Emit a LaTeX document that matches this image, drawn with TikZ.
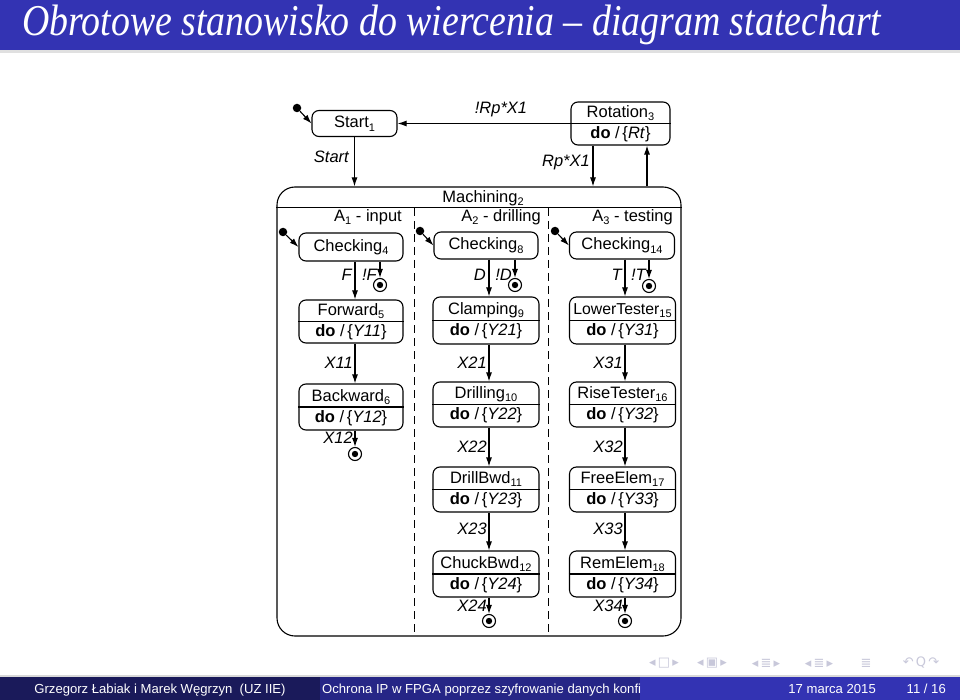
\documentclass[tikz,border=0pt]{standalone}
\usepackage{fontspec}
\setmainfont{Liberation Sans}
\newfontfamily\titlefont{Liberation Serif}
\newfontfamily\symfont{DejaVu Sans}
\usetikzlibrary{arrows.meta,calc}
\definecolor{titleblue}{RGB}{51,51,179}
\definecolor{footA}{RGB}{26,26,90}
\definecolor{footB}{RGB}{38,38,134}
\definecolor{footC}{RGB}{51,51,179}
\definecolor{navgray}{RGB}{200,200,218}
\newcommand\sub[1]{\raisebox{-0.35ex}{\fontsize{11}{12}\selectfont #1}}
\newcommand\doact[1]{\textbf{do}~/\,\{\textit{#1}\}}
% name, x, y, width, height, title, action
\newcommand\twost[7]{%
  \node[sbox, minimum width=#4pt, minimum height=#5pt] (#1) at (#2,#3) {};
  \draw[stline] (#1.west) -- (#1.east);
  \node[tnode] (#1-t) at ([yshift=10.5pt]#1.center) {#6};
  \node[tnode] (#1-a) at ([yshift=-10.5pt]#1.center) {\doact{#7}};
}
\begin{document}
\begin{tikzpicture}[x=1pt,y=-1pt,
  font=\fontsize{16.5}{19}\selectfont,
  sbox/.style={draw, rounded corners=7pt, line width=1.1pt, inner sep=0pt},
  stline/.style={line width=1.1pt},
  tnode/.style={inner sep=0pt, text height=12pt, text depth=3pt},
  lab/.style={font=\fontsize{16.5}{19}\selectfont\itshape, inner sep=1pt},
  arr/.style={-{Latex[length=9pt,width=6pt]}, line width=1.1pt},
  initst/.style={circle, fill, minimum size=8.5pt, inner sep=0pt},
  finst/.style={circle, draw, line width=1.1pt, minimum size=13pt, inner sep=0pt,
    path picture={\fill (path picture bounding box.center) circle (3.2pt);}},
  dashln/.style={line width=0.8pt, dash pattern=on 8pt off 5pt},
  foot/.style={text=white, font=\fontsize{13.1}{15}\selectfont, inner sep=0pt},
  navs/.style={text=navgray, inner sep=0pt, font=\symfont\fontsize{13}{14}\selectfont}
]
\useasboundingbox (0,0) rectangle (960,700);
\fill[white] (0,0) rectangle (960,700);
% title bar
\fill[titleblue] (0,0) rectangle (960,50);
\fill[black!12] (0,50) rectangle (960,53);
\node[anchor=base west, text=white, inner sep=0pt,
  font=\titlefont\itshape\fontsize{44}{48}\selectfont] (title) at (22,36)
  {\scalebox{0.86}[1]{Obrotowe stanowisko do wiercenia – diagram statechart}};

% top level
\node[initst] (i0) at (297,108) {};
\node[sbox, minimum width=85pt, minimum height=26pt] (start) at (354.5,123.5) {};
\node[tnode] (start-t) at (start.center) {Start\sub{1}};
\twost{rot}{620.5}{123.5}{99}{43}{Rotation\sub{3}}{Rt}
\draw[arr] (i0) -- (start.west);
\draw[arr] (rot.west) -- (start.east);
\node[lab] (lrp) at (501,110) {!Rp*X1};

% Machining
\node[draw, line width=1.1pt, rounded corners=18pt, minimum width=404pt,
  minimum height=449pt, inner sep=0pt] (mach) at (479,411.5) {};
\draw[stline] ([yshift=-21pt]mach.north west) -- ([yshift=-21pt]mach.north east);
\node[tnode] (mach-t) at (483,198) {Machining\sub{2}};
\draw[dashln] (414,208) -- (414,636);
\draw[dashln] (548,208) -- (548,636);
\node[tnode, anchor=east] (ra1) at (402,217) {A\sub{1} - input};
\node[tnode, anchor=east] (ra2) at (541,217) {A\sub{2} - drilling};
\node[tnode, anchor=east] (ra3) at (673,217) {A\sub{3} - testing};

\draw[arr] (start.south) -- (start.south |- mach.north);
\node[lab, anchor=east] (lstart) at (350,157) {Start};
\coordinate (rpa) at ([xshift=-27.5pt]rot.south);
\coordinate (upa) at ([xshift=26.5pt]rot.south);
\draw[arr] (rpa) -- (rpa |- mach.north);
\draw[arr] (upa |- mach.north) -- (upa);
\node[lab, anchor=east] (lrp2) at (591,163) {Rp*X1};

% column 1
\node[initst] (i1) at (283,232) {};
\node[sbox, minimum width=104pt, minimum height=28pt] (chk4) at (351,247) {};
\node[tnode] (chk4-t) at (chk4.center) {Checking\sub{4}};
\draw[arr] (i1) -- (chk4.west);
\twost{fwd}{351}{321.5}{104}{43}{Forward\sub{5}}{Y11}
\twost{bwd}{351}{407}{104}{46}{Backward\sub{6}}{Y12}
\node[finst] (f1) at (380,285) {};
\node[finst] (f2) at (355,454) {};
\draw[arr] ([xshift=4pt]chk4.south) -- ([xshift=4pt]fwd.north);
\draw[arr] (f1.north |- chk4.south) -- (f1.north);
\draw[arr] ([xshift=4pt]fwd.south) -- ([xshift=4pt]bwd.north);
\draw[arr] (f2.north |- bwd.south) -- (f2.north);
\node[lab, anchor=east] (lF) at (353,275) {F};
\node[lab, anchor=east] (lnF) at (378,275) {!F};
\node[lab, anchor=east] (lX11) at (354,363) {X11};
\node[lab, anchor=east] (lX12) at (354,438) {X12};

% column 2
\node[initst] (i2) at (420,231) {};
\node[sbox, minimum width=104pt, minimum height=27pt] (chk8) at (486,245.5) {};
\node[tnode] (chk8-t) at (chk8.center) {Checking\sub{8}};
\draw[arr] (i2) -- (chk8.west);
\twost{clamp}{486}{320.5}{106}{47}{Clamping\sub{9}}{Y21}
\twost{drill}{486}{404.5}{106}{45}{Drilling\sub{10}}{Y22}
\twost{drbwd}{486}{489.5}{106}{45}{DrillBwd\sub{11}}{Y23}
\twost{chuck}{486}{574}{106}{46}{ChuckBwd\sub{12}}{Y24}
\node[finst] (f3) at (515,285) {};
\node[finst] (f4) at (489,621) {};
\draw[arr] ([xshift=3pt]chk8.south) -- ([xshift=3pt]clamp.north);
\draw[arr] (f3.north |- chk8.south) -- (f3.north);
\draw[arr] ([xshift=3pt]clamp.south) -- ([xshift=3pt]drill.north);
\draw[arr] ([xshift=3pt]drill.south) -- ([xshift=3pt]drbwd.north);
\draw[arr] ([xshift=3pt]drbwd.south) -- ([xshift=3pt]chuck.north);
\draw[arr] (f4.north |- chuck.south) -- (f4.north);
\node[lab, anchor=east] (lD) at (487,275) {D};
\node[lab, anchor=east] (lnD) at (513,275) {!D};
\node[lab, anchor=east] (lX21) at (488,363) {X21};
\node[lab, anchor=east] (lX22) at (488,447) {X22};
\node[lab, anchor=east] (lX23) at (488,529) {X23};
\node[lab, anchor=east] (lX24) at (488,606) {X24};

% column 3
\node[initst] (i3) at (555,231) {};
\node[sbox, minimum width=105pt, minimum height=27pt] (chk14) at (622,245.5) {};
\node[tnode] (chk14-t) at (chk14.center) {Checking\sub{14}};
\draw[arr] (i3) -- (chk14.west);
\twost{lower}{622.5}{320.5}{106}{47}{{\fontsize{15.8}{19}\selectfont LowerTester\sub{15}}}{Y31}
\twost{rise}{622.5}{404.5}{106}{45}{RiseTester\sub{16}}{Y32}
\twost{free}{622.5}{489.5}{106}{45}{FreeElem\sub{17}}{Y33}
\twost{rem}{622.5}{574}{106}{46}{RemElem\sub{18}}{Y34}
\node[finst] (f5) at (649,286) {};
\node[finst] (f6) at (625,621) {};
\draw[arr] ([xshift=3pt]chk14.south) -- ([xshift=3pt]chk14.south |- lower.north);
\draw[arr] (f5.north |- chk14.south) -- (f5.north);
\draw[arr] ([xshift=2.5pt]lower.south) -- ([xshift=2.5pt]rise.north);
\draw[arr] ([xshift=2.5pt]rise.south) -- ([xshift=2.5pt]free.north);
\draw[arr] ([xshift=2.5pt]free.south) -- ([xshift=2.5pt]rem.north);
\draw[arr] (f6.north |- rem.south) -- (f6.north);
\node[lab, anchor=east] (lT) at (623,275) {T};
\node[lab, anchor=east] (lnT) at (647,275) {!T};
\node[lab, anchor=east] (lX31) at (624,363) {X31};
\node[lab, anchor=east] (lX32) at (624,447) {X32};
\node[lab, anchor=east] (lX33) at (624,529) {X33};
\node[lab, anchor=east] (lX34) at (624,606) {X34};

% navigation symbols
\node[navs] (nav1) at (664,663) {◂\,□\,▸};
\node[navs] (nav2) at (712,663) {◂\,▣\,▸};
\node[navs] (nav3) at (766,663) {◂\,≣\,▸};
\node[navs] (nav4) at (819,663) {◂\,≣\,▸};
\node[navs] (nav5) at (866,663) {≣};
\node[navs] (nav6) at (921,663) {↶\,Q\,↷};

% footer
\fill[black!15] (0,675) rectangle (960,677);
\fill[footA] (0,677) rectangle (320,700);
\fill[footB] (320,677) rectangle (640,700);
\fill[footC] (640,677) rectangle (960,700);
\node[foot, anchor=base] (auth) at (160,693) {Grzegorz Łabiak i Marek Węgrzyn\ \ (UZ IIE)};
\begin{scope}
\clip (320,677) rectangle (640,700);
\node[foot, anchor=base west] (ftitle) at (322,693) {Ochrona IP w FPGA poprzez szyfrowanie danych konfiguracyjnych};
\end{scope}
\node[foot, anchor=base east] (fdate) at (876,693) {17 marca 2015};
\node[foot, anchor=base east] (fpage) at (946,693) {11 / 16};
\end{tikzpicture}
\end{document}
